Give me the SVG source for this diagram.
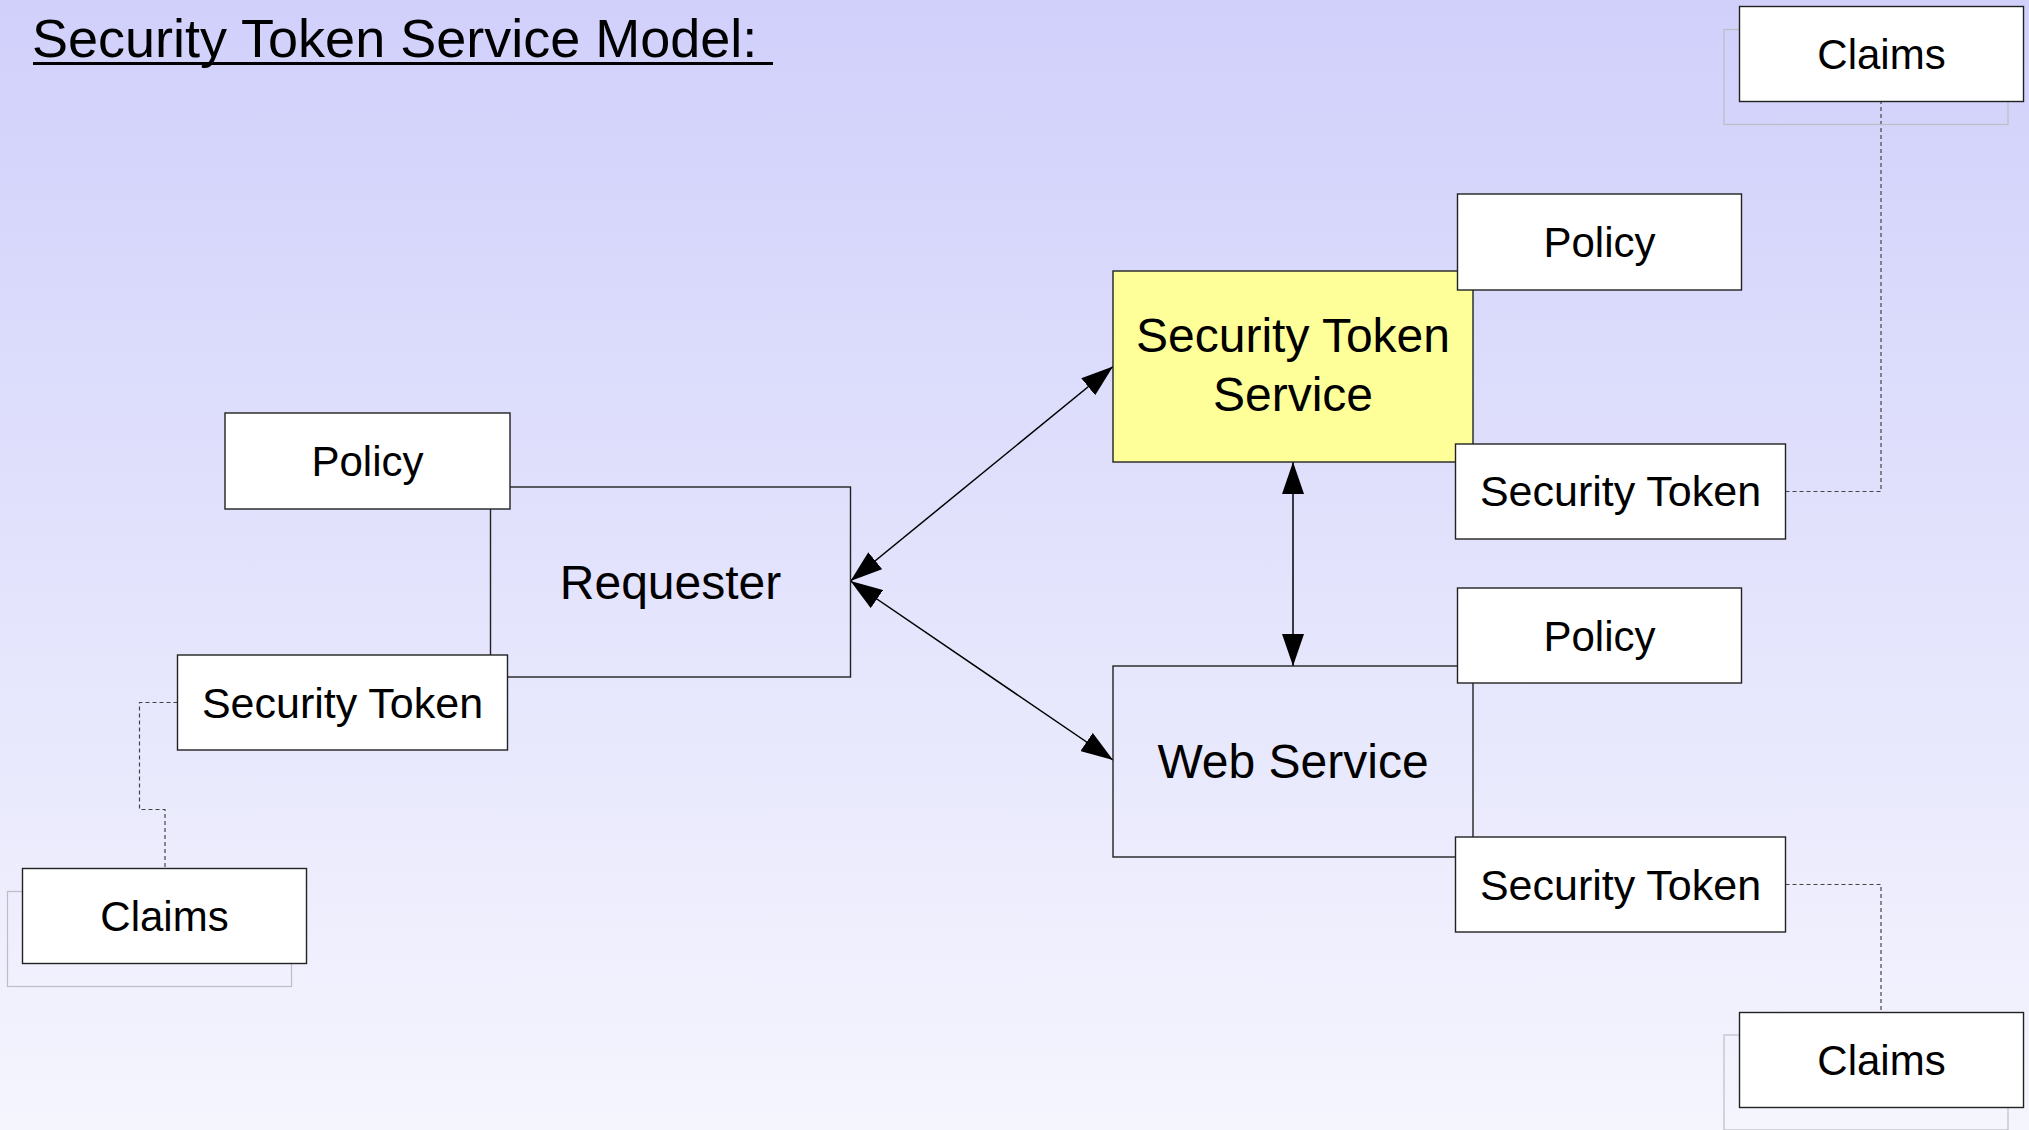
<svg xmlns="http://www.w3.org/2000/svg" width="2029" height="1130" viewBox="0 0 2029 1130">
  <defs>
    <linearGradient id="bg" x1="0" y1="0" x2="0" y2="1">
      <stop offset="0" stop-color="#d0d0fb"/>
      <stop offset="1" stop-color="#f5f5fe"/>
    </linearGradient>
    <marker id="head" viewBox="0 0 32 22" markerWidth="32" markerHeight="22" refX="32" refY="11" markerUnits="userSpaceOnUse" orient="auto-start-reverse">
      <path d="M0,0 L32,11 L0,22 z" fill="#000"/>
    </marker>
    <style>
      .box { fill: #fff; stroke: #222; stroke-width: 1.4; }
      .frame { fill: none; stroke: #222; stroke-width: 1.4; }
      .sts { fill: #ffff99; stroke: #222; stroke-width: 1.4; }
      .shadow { fill: none; stroke: #bdbdc4; stroke-width: 1.2; }
      .big { font-family: "Liberation Sans", Arial, sans-serif; font-size: 48px; fill: #000; text-anchor: middle; }
      .small { font-family: "Liberation Sans", Arial, sans-serif; font-size: 42px; fill: #000; text-anchor: middle; }
      .token { font-size: 43px; }
      .title { font-family: "Liberation Sans", Arial, sans-serif; font-size: 54px; fill: #000; }
      .arrow { fill: none; stroke: #000; stroke-width: 1.5; marker-start: url(#head); marker-end: url(#head); }
      .link { fill: none; stroke: #444; stroke-width: 1.2; stroke-dasharray: 4 3; }
    </style>
  </defs>

  <rect x="0" y="0" width="2029" height="1130" fill="url(#bg)"/>

  <!-- heading -->
  <g id="title">
    <text class="title" x="32" y="57">Security Token Service Model:</text>
    <line x1="33" y1="63.5" x2="773" y2="63.5" stroke="#000" stroke-width="3"/>
  </g>

  <!-- connectors -->
  <g id="connectors">
    <path class="arrow" d="M850.5,581 L1113,366.5"/>
    <path class="arrow" d="M850.5,581 L1113,760"/>
    <path class="arrow" d="M1293,462 L1293,666"/>
    <path class="link" d="M177.5,702.5 H139.5 V809.5 H165 V868.5"/>
    <path class="link" d="M1785.5,491.5 H1881 V101.5"/>
    <path class="link" d="M1785.5,884.5 H1881 V1012.5"/>
  </g>

  <!-- requester side -->
  <g id="requester">
    <rect class="frame" x="490.5" y="487" width="360" height="190"/>
    <text class="big" x="670.5" y="598.5">Requester</text>
  </g>
  <g id="requester-policy">
    <rect class="box" x="225" y="413" width="285" height="96"/>
    <text class="small" x="367.5" y="476">Policy</text>
  </g>
  <g id="requester-token">
    <rect class="box" x="177.5" y="655" width="330" height="95"/>
    <text class="small token" x="342.5" y="717.5">Security Token</text>
  </g>
  <g id="requester-claims">
    <rect class="shadow" x="7.5" y="891.5" width="284" height="95"/>
    <rect class="box" x="22.5" y="868.5" width="284" height="95"/>
    <text class="small" x="164.5" y="931">Claims</text>
  </g>

  <!-- token service side -->
  <g id="sts">
    <rect class="sts" x="1113" y="271" width="360" height="191"/>
    <text class="big" x="1293" y="351.5">Security Token</text>
    <text class="big" x="1293" y="411">Service</text>
  </g>
  <g id="sts-policy">
    <rect class="box" x="1457.5" y="194" width="284" height="96"/>
    <text class="small" x="1599.5" y="256.5">Policy</text>
  </g>
  <g id="sts-token">
    <rect class="box" x="1455.5" y="444" width="330" height="95"/>
    <text class="small token" x="1620.5" y="506">Security Token</text>
  </g>
  <g id="sts-claims">
    <rect class="shadow" x="1724" y="29.5" width="284" height="95"/>
    <rect class="box" x="1739.5" y="6.5" width="284" height="95"/>
    <text class="small" x="1881.5" y="69">Claims</text>
  </g>

  <!-- web service side -->
  <g id="web-service">
    <rect class="frame" x="1113" y="666" width="360" height="191"/>
    <text class="big" x="1293" y="778">Web Service</text>
  </g>
  <g id="ws-policy">
    <rect class="box" x="1457.5" y="588" width="284" height="95"/>
    <text class="small" x="1599.5" y="650.5">Policy</text>
  </g>
  <g id="ws-token">
    <rect class="box" x="1455.5" y="837" width="330" height="95"/>
    <text class="small token" x="1620.5" y="899.5">Security Token</text>
  </g>
  <g id="ws-claims">
    <rect class="shadow" x="1724" y="1035" width="284" height="95"/>
    <rect class="box" x="1739.5" y="1012.5" width="284" height="95"/>
    <text class="small" x="1881.5" y="1075">Claims</text>
  </g>
</svg>
